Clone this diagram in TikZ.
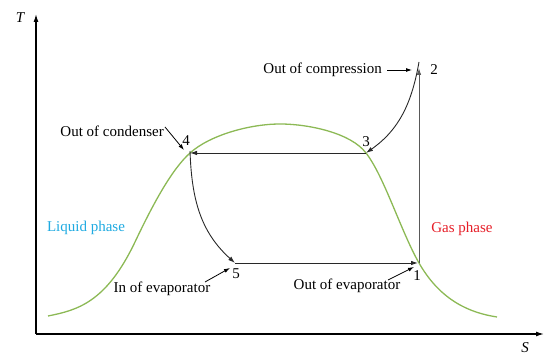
\documentclass[tikz,border=0pt]{standalone}
\usepackage{fontspec}
\setmainfont{Liberation Serif}
\usetikzlibrary{arrows.meta}
\definecolor{dome}{RGB}{140,185,85}
\definecolor{liq}{RGB}{30,170,225}
\definecolor{gas}{RGB}{230,30,40}
\definecolor{cyc}{RGB}{40,40,40}
\tikzset{
  lbl/.style={font=\fontsize{15}{17}\selectfont, inner sep=0pt},
  num/.style={font=\fontsize{15}{17}\selectfont, inner sep=0pt},
  axis/.style={line width=1.3pt, black, -{Latex[length=8pt,width=5pt]}},
  cycle/.style={line width=0.9pt, cyc, -{Latex[length=7pt,width=4.5pt]}},
  pointer/.style={line width=0.8pt, black, -{Latex[length=6pt,width=4pt]}},
}
\begin{document}
\begin{tikzpicture}[x=1pt,y=-1pt]
\useasboundingbox (0,0) rectangle (550,363);
% axes
\coordinate (O) at (36,334);
\coordinate (Ty) at (36,14);
\coordinate (Sx) at (544,334);
\draw[axis] (O) -- (Ty);
\draw[axis] (O) -- (Sx);
\node[lbl, font=\fontsize{15}{17}\selectfont\itshape] (T) at (20,18) {T};
\node[lbl, font=\fontsize{15}{17}\selectfont\itshape] (S) at (525,348) {S};
% dome
\draw[dome, line width=1.3pt] (48,316)
  .. controls (77,310.2) and (106,302.9) .. (135,242)
  .. controls (153.3,203.5) and (171.7,169.5) .. (190,153)
  .. controls (210,135) and (250,124) .. (280,124)
  .. controls (308.7,124) and (351,133) .. (366,153)
  .. controls (384,176) and (401,231.5) .. (419,263)
  .. controls (441,301.5) and (471,313) .. (497,317);
% points
\coordinate (p1) at (419,263);
\coordinate (p2) at (419,68);
\coordinate (p3) at (366,153);
\coordinate (p4) at (190,153);
\coordinate (p5) at (235,263);
% cycle
\draw[cycle, color=black!65] (p1) -- (p2);
\draw[cycle] ([yshift=6pt]p2) to[out=-100,in=35] (p3);
\draw[cycle] (p3) -- (p4);
\draw[cycle] ([yshift=2pt]p4) to[out=-88,in=138] (p5);
\draw[cycle] (p5) -- ([xshift=-1pt]p1);
% numbers
\node[num] (n1) at (417,276) {1};
\node[num] (n2) at (434,70) {2};
\node[num] (n3) at (366,142) {3};
\node[num] (n4) at (186,141) {4};
\node[num] (n5) at (236,274) {5};
% labels
\node[lbl, anchor=east] (lcomp) at (382,70) {Out of compression};
\coordinate (acomp) at (412,70);
\draw[pointer] (lcomp.east) ++(5,0) -- (acomp);
\node[lbl, anchor=east] (lcond) at (164,131) {Out of condenser};
\coordinate (acond) at (184,150);
\draw[pointer] ([xshift=1pt,yshift=4pt]lcond.east) -- (acond);
\node[lbl] (lin) at (162,289) {In of evaporator};
\coordinate (ain) at (230,268);
\draw[pointer] (205,282) -- (ain);
\node[lbl] (lout) at (347,286) {Out of evaporator};
\coordinate (aout) at (414,267);
\draw[pointer] (388,280) -- (aout);
\node[lbl, text=liq] (liq) at (86,228) {Liquid phase};
\node[lbl, text=gas] (gasp) at (462,229) {Gas phase};
\end{tikzpicture}
\end{document}
